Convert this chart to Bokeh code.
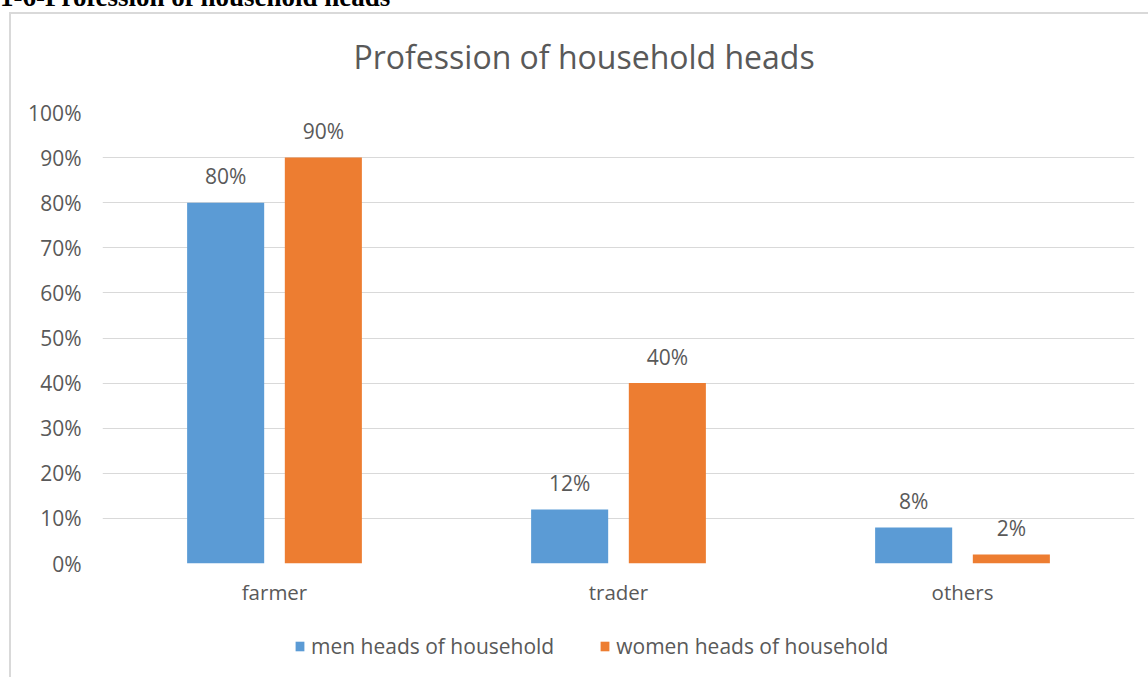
from bokeh.plotting import figure
from bokeh.layouts import column
from bokeh.models import (ColumnDataSource, FactorRange, Range1d, FixedTicker,
                          NumeralTickFormatter, LabelSet, Legend, LegendItem,
                          Title, InlineStyleSheet)
from bokeh.transform import dodge
from bokeh.core.properties import value
from bokeh.embed import file_html
from bokeh.resources import INLINE

# ---- data ----
categories = ["farmer", "trader", "others"]
men = [0.80, 0.12, 0.08]
women = [0.90, 0.40, 0.02]
series_names = ["men heads of household", "women heads of household"]
y_ticks = [0.0, 0.1, 0.2, 0.3, 0.4, 0.5, 0.6, 0.7, 0.8, 0.9, 1.0]
chart_title = "Profession of household heads"
heading = "4-1-6-Profession of household heads"

FONT = "Open Sans"
GREY = "#595959"
BLUE = "#5b9bd5"
ORANGE = "#ed7d31"

src = ColumnDataSource(dict(
    cat=categories,
    men=men,
    women=women,
    men_lbl=[f"{v*100:.0f}%" for v in men],
    women_lbl=[f"{v*100:.0f}%" for v in women],
))

bw = 0.224
off = 0.142

# ---------------- main chart ----------------
p = figure(width=1148, height=620, x_range=FactorRange(factors=categories),
           y_range=Range1d(0, 1), output_backend="svg", toolbar_location=None,
           min_border_left=102, min_border_right=14, min_border_top=112,
           min_border_bottom=57, title=None)
p.outline_line_color = None
p.background_fill_color = "white"
p.border_fill_color = "white"

p.vbar(x=dodge("cat", -off, range=p.x_range), top="men", width=bw, source=src,
       fill_color=BLUE, line_color=None)
p.vbar(x=dodge("cat", off, range=p.x_range), top="women", width=bw, source=src,
       fill_color=ORANGE, line_color=None)

for col, lbl, o in (("men", "men_lbl", -off), ("women", "women_lbl", off)):
    p.add_layout(LabelSet(x=dodge("cat", o, range=p.x_range), y=col, text=lbl, source=src,
                          y_offset=18.5, text_align="center", text_baseline="alphabetic",
                          text_font=value(FONT), text_font_size="21px", text_color=GREY))

p.yaxis.ticker = FixedTicker(ticks=y_ticks)
p.yaxis.formatter = NumeralTickFormatter(format="0%")
p.yaxis.axis_line_color = None
p.yaxis.major_tick_line_color = None
p.yaxis.minor_tick_line_color = None
p.yaxis.major_tick_out = 0
p.yaxis.major_tick_in = 0
p.yaxis.minor_tick_out = 0
p.yaxis.major_label_standoff = 21
p.yaxis.major_label_text_font = FONT
p.yaxis.major_label_text_font_size = "21px"
p.yaxis.major_label_text_color = GREY

p.xaxis.axis_line_color = None
p.xaxis.major_tick_line_color = None
p.xaxis.minor_tick_line_color = None
p.xaxis.major_tick_out = 0
p.xaxis.major_tick_in = 0
p.xaxis.major_label_standoff = 14
p.xaxis.major_label_text_font = FONT
p.xaxis.major_label_text_font_size = "20.5px"
p.xaxis.major_label_text_color = GREY

p.xgrid.grid_line_color = None
p.ygrid.grid_line_color = "#d9d9d9"
p.ygrid.grid_line_width = 1

# chart title (above panel, next to the plot area)
p.add_layout(Title(text=chart_title, align="left", offset=251, vertical_align="top",
                   standoff=64.6, text_font=FONT, text_font_size="32px",
                   text_font_style="normal", text_color=GREY), "above")

# document heading (outermost, cut off at the top of the window)
p.add_layout(Title(text=heading, align="left", offset=-125, vertical_align="top",
                   standoff=-42, text_font="Liberation Serif", text_font_style="bold",
                   text_font_size="27px", text_color="black"), "above")

# ---------------- legend strip ----------------
q = figure(width=1148, height=57, x_range=p.x_range, y_range=Range1d(2, 3),
           x_axis_type=None, y_axis_type=None, output_backend="svg",
           toolbar_location=None, min_border=0, title=None)
q.outline_line_color = None
q.background_fill_color = "white"
q.border_fill_color = "white"
q1 = q.vbar(x=dodge("cat", -off, range=q.x_range), top="men", width=bw, source=src,
            fill_color=BLUE, line_color=None)
q2 = q.vbar(x=dodge("cat", off, range=q.x_range), top="women", width=bw, source=src,
            fill_color=ORANGE, line_color=None)
legend = Legend(items=[LegendItem(label=series_names[0], renderers=[q1]),
                       LegendItem(label=series_names[1], renderers=[q2])],
                orientation="horizontal", location=(192, 17),
                glyph_width=11, glyph_height=12, label_standoff=6, spacing=45,
                padding=0, margin=0, border_line_color=None,
                background_fill_alpha=0,
                label_text_font=FONT, label_text_font_size="21px",
                label_text_color=GREY)
q.add_layout(legend)

layout = column(p, q, spacing=0)
layout.stylesheets = [InlineStyleSheet(css=(
    ":host{position:relative;}"
    ":host::after{content:'';position:absolute;left:9px;top:12px;width:1139px;"
    "height:665px;border-left:2px solid #d9d9d9;border-top:2px solid #d9d9d9;"
    "box-sizing:border-box;pointer-events:none;z-index:10;}"))]

open("out.html", "w").write(file_html(layout, INLINE))
